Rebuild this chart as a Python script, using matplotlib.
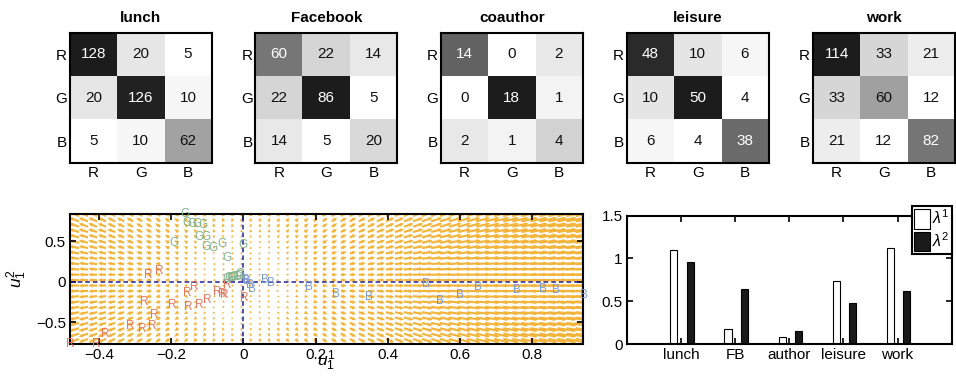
import numpy as np
import matplotlib
matplotlib.use("Agg")
import matplotlib.pyplot as plt
from matplotlib.colors import LinearSegmentedColormap, Normalize

plt.rcParams['font.family'] = ['Liberation Sans', 'DejaVu Sans']
plt.rcParams['mathtext.fontset'] = 'custom'
plt.rcParams['mathtext.rm'] = 'Liberation Sans'
plt.rcParams['mathtext.it'] = 'Liberation Sans:italic'

# ---------------- data ----------------
group_labels = ["R", "G", "B"]
matrix_titles = ["lunch", "Facebook", "coauthor", "leisure", "work"]
lunch = [[128, 20, 5], [20, 126, 10], [5, 10, 62]]
facebook = [[60, 22, 14], [22, 86, 5], [14, 5, 20]]
coauthor = [[14, 0, 2], [0, 18, 1], [2, 1, 4]]
leisure = [[48, 10, 6], [10, 50, 4], [6, 4, 38]]
work = [[114, 33, 21], [33, 60, 12], [21, 12, 82]]
matrices = [lunch, facebook, coauthor, leisure, work]

# embedding points (u1^1, u1^2)
r_x = [-0.262, -0.232, -0.156, -0.135, -0.072, -0.058, -0.052, -0.044, 0.002, -0.100,
       -0.121, -0.153, -0.197, -0.275, -0.247, -0.253, -0.280, -0.313, -0.382, -0.407, -0.480]
r_y = [0.083, 0.132, -0.135, -0.060, -0.123, -0.152, -0.164, -0.040, -0.205, -0.226,
       -0.288, -0.308, -0.292, -0.247, -0.410, -0.547, -0.588, -0.547, -0.646, -0.770, -0.770]
g_x = [-0.162, -0.155, -0.143, -0.128, -0.111, -0.122, -0.102, -0.193, -0.102, -0.083,
       -0.060, -0.002, -0.046, -0.045, -0.040, -0.035, -0.030, -0.025, -0.018, -0.012, -0.008]
g_y = [0.836, 0.730, 0.712, 0.712, 0.700, 0.548, 0.548, 0.480, 0.425, 0.410,
       0.470, 0.450, 0.290, 0.030, 0.045, 0.040, 0.050, 0.060, 0.055, 0.070, 0.100]
b_x = [0.006, 0.011, 0.019, 0.025, 0.060, 0.076, 0.182, 0.256, 0.347, 0.506,
       0.545, 0.601, 0.650, 0.758, 0.831, 0.866, 0.944]
b_y = [0.020, 0.009, -0.040, -0.094, 0.020, -0.012, -0.066, -0.152, -0.193, -0.028,
       -0.234, -0.164, -0.062, -0.102, -0.094, -0.102, -0.168]

bar_categories = ["lunch", "FB", "author", "leisure", "work"]
lambda1 = [1.10, 0.175, 0.08, 0.735, 1.12]
lambda2 = [0.96, 0.645, 0.155, 0.475, 0.625]

# ---------------- figure ----------------
W, H = 956, 384
fig = plt.figure(figsize=(W / 100, H / 100), dpi=100)

def px_axes(left, top, right, bottom):
    return fig.add_axes([left / W, 1 - bottom / H, (right - left) / W, (bottom - top) / H])

cmap = LinearSegmentedColormap.from_list(
    "mgray", [(0.0, (1, 1, 1)), (0.8, (0.37, 0.37, 0.37)), (1.0, (0.11, 0.11, 0.11))])

mat_lefts = [70, 255.5, 441, 627, 813]
for left, title, mat in zip(mat_lefts, matrix_titles, matrices):
    ax = px_axes(left, 32.7, left + 141.5, 163)
    m = np.array(mat, dtype=float)
    norm = Normalize(vmin=m.min(), vmax=m.max())
    ax.imshow(m, cmap=cmap, norm=norm, aspect='auto', interpolation='nearest')
    for i in range(3):
        for j in range(3):
            lin = norm(m[i, j])
            ax.text(j, i, f"{int(m[i, j])}", ha='center', va='center', fontsize=11,
                    color='white' if lin > 0.55 else '#111111')
    ax.set_xticks(range(3))
    ax.set_yticks(range(3))
    ax.set_xticklabels(group_labels, fontsize=11)
    ax.set_yticklabels(group_labels, fontsize=11)
    ax.tick_params(length=0, pad=2)
    ax.set_title(title, fontsize=11, fontweight='bold', pad=8)
    for s in ax.spines.values():
        s.set_linewidth(1.5)

# ---------------- scatter with field ----------------
ax = px_axes(70, 214, 582.7, 344.3)
xlim = (-0.48, 0.94)
ylim = (-0.773, 0.836)
gx = np.arange(xlim[0], xlim[1] + 0.001, 0.025)
gy = np.arange(ylim[0], ylim[1] + 0.001, 0.066)
X, Y = np.meshgrid(gx, gy)
k = 0.06
ax.quiver(X, Y, k * X, k * Y, angles='xy', scale_units='xy', scale=1,
          color='#f2b43a', width=0.0042, headwidth=1.9, headlength=2.0,
          headaxislength=1.8, zorder=1)
ax.axhline(0, color='#1f1f9a', ls=(0, (3, 2)), lw=1.1, zorder=2)
ax.axvline(0, color='#1f1f9a', ls=(0, (3, 2)), lw=1.1, zorder=2)
for xs, ys, lab, col in [(r_x, r_y, "R", '#e5775f'), (g_x, g_y, "G", '#84b38f'),
                         (b_x, b_y, "B", '#7d9bd0')]:
    for x, y in zip(xs, ys):
        ax.text(x, y, lab, color=col, fontsize=8.5, ha='center', va='center',
                zorder=3, clip_on=False)
ax.set_xlim(*xlim)
ax.set_ylim(*ylim)
ax.set_xticks([-0.4, -0.2, 0, 0.2, 0.4, 0.6, 0.8])
ax.set_xticklabels(["\u22120.4", "\u22120.2", "0", "0.2", "0.4", "0.6", "0.8"])
ax.set_yticks([-0.5, 0, 0.5])
ax.set_yticklabels(["\u22120.5", "0", "0.5"])
ax.tick_params(direction='in', length=4, width=1.2, labelsize=11, top=True, right=True, pad=3)
ax.set_xlabel(r"$u_1^1$", fontsize=12.5, labelpad=-10)
ax.set_ylabel(r"$u_1^2$", fontsize=12.5, labelpad=5)
for s in ax.spines.values():
    s.set_linewidth(1.5)

# ---------------- bars ----------------
ax = px_axes(626.7, 215.7, 951.7, 344)
pos = np.arange(1, len(bar_categories) + 1)
bw = 0.13
ax.bar(pos - 0.13, lambda1, width=bw, color='white', edgecolor='black', lw=0.8, label=r"$\lambda^1$")
ax.bar(pos + 0.17, lambda2, width=bw, color='#1a1a1a', edgecolor='black', lw=0.8, label=r"$\lambda^2$")
ax.set_xlim(0, 6)
ax.set_ylim(0, 1.5)
ax.set_xticks(pos)
ax.set_xticklabels(bar_categories)
ax.set_yticks([0, 0.5, 1, 1.5])
ax.set_yticklabels(["0", "0.5", "1", "1.5"])
ax.tick_params(direction='in', length=4, width=1.2, labelsize=11, top=True, right=True, pad=3)
for s in ax.spines.values():
    s.set_linewidth(1.5)
leg = ax.legend(loc='upper right', bbox_to_anchor=(1.0, 1.075), fontsize=11.5,
                fancybox=False, edgecolor='black', framealpha=1,
                handlelength=1.0, handleheight=1.5, handletextpad=0.1,
                borderpad=0.15, labelspacing=0.15, borderaxespad=0)
leg.get_frame().set_linewidth(1.5)

fig.savefig("out.png", dpi=100)
